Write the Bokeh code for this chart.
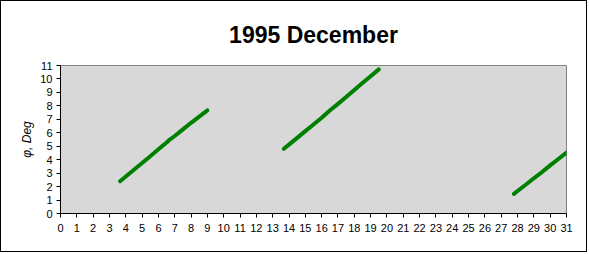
from bokeh.plotting import figure
from bokeh.embed import file_html
from bokeh.resources import INLINE
from bokeh.models import FixedTicker, Range1d

# Data (day of month vs phase angle, degrees)
s1_day = [3.65, 4.0, 4.5, 5.0, 5.5, 6.0, 6.5, 6.65, 7.0, 7.5, 8.0, 8.5, 9.0]
s1_deg = [2.40, 2.75, 3.25, 3.76, 4.26, 4.78, 5.28, 5.45, 5.76, 6.25, 6.74, 7.20, 7.66]

s2_day = [13.68, 14.0, 14.5, 15.0, 15.5, 16.0, 16.5, 17.0, 17.5, 18.0, 18.5, 19.0, 19.5]
s2_deg = [4.81, 5.12, 5.62, 6.12, 6.62, 7.12, 7.66, 8.15, 8.66, 9.18, 9.70, 10.20, 10.71]

s3_day = [27.78, 28.0, 28.5, 29.0, 29.5, 30.0, 30.5, 31.0]
s3_deg = [1.46, 1.67, 2.14, 2.62, 3.08, 3.58, 4.05, 4.52]

x_ticks = list(range(0, 32))
y_ticks = list(range(0, 12))

p = figure(width=587, height=252, output_backend="svg", toolbar_location=None,
           x_range=Range1d(0, 31), y_range=Range1d(0, 11),
           min_border_left=59, min_border_right=22, min_border_top=63, min_border_bottom=40,
           title="1995 December")
p.styles = {"border": "1px solid black"}

p.title.align = "center"
p.title.text_font = "Liberation Sans"
p.title.text_font_size = "23px"
p.title.text_font_style = "bold"
p.title.text_color = "black"
p.title.standoff = 36

p.background_fill_color = "#d8d8d8"
p.border_fill_color = "white"
p.outline_line_color = "#808080"
p.grid.visible = False

for ax in (p.xaxis[0], p.yaxis[0]):
    ax.axis_line_color = "black"
    ax.major_tick_line_color = "black"
    ax.major_tick_in = 0
    ax.major_tick_out = 4
    ax.minor_tick_line_color = None
    ax.major_label_text_font = "Liberation Sans"
    ax.major_label_text_font_size = "11px"
    ax.major_label_text_color = "black"

p.xaxis.ticker = FixedTicker(ticks=x_ticks)
p.yaxis.ticker = FixedTicker(ticks=y_ticks)
p.xaxis.major_label_standoff = 6
p.yaxis.major_label_standoff = 4

p.yaxis.axis_label = "φ, Deg"
p.yaxis.axis_label_text_font = "Liberation Sans"
p.yaxis.axis_label_text_font_size = "12px"
p.yaxis.axis_label_text_font_style = "italic"
p.yaxis.axis_label_text_color = "black"
p.yaxis.axis_label_standoff = 3

for xs, ys in ((s1_day, s1_deg), (s2_day, s2_deg), (s3_day, s3_deg)):
    p.line(xs, ys, line_color="#008000", line_width=4, line_cap="round", line_join="round")

open("out.html", "w").write(file_html(p, INLINE))
